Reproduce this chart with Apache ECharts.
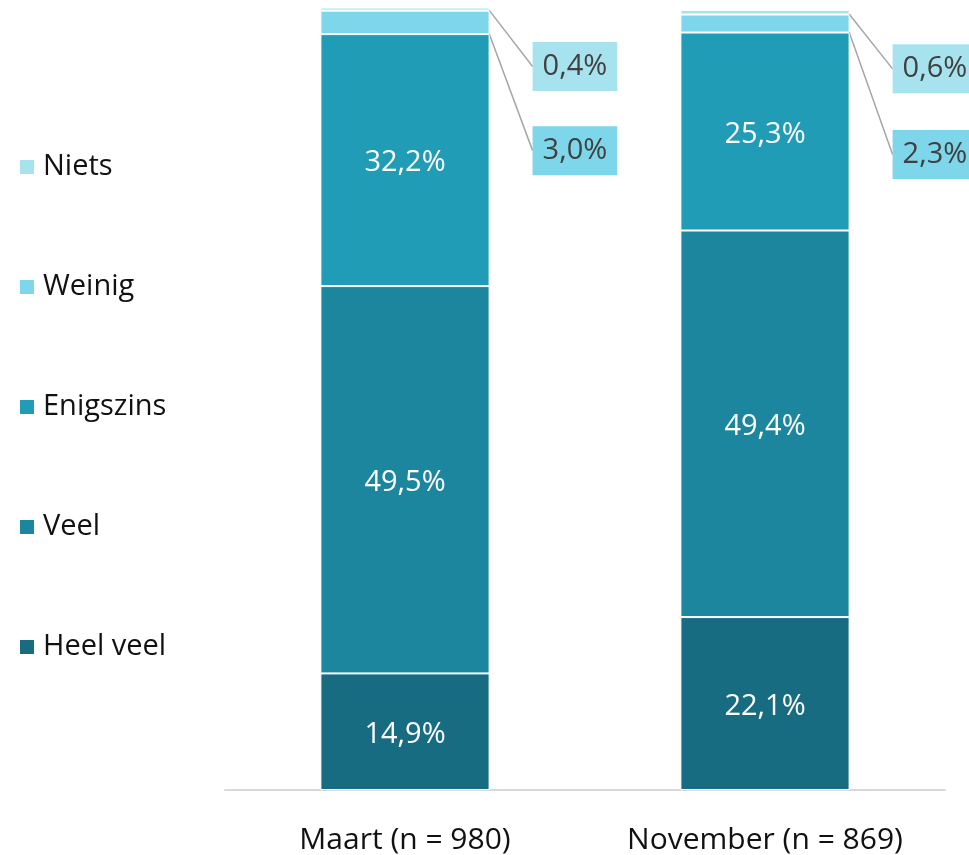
<!DOCTYPE html>
<html>
<head>
<meta charset="utf-8">
<title>Chart</title>
<script src="https://cdn.jsdelivr.net/npm/echarts@6/dist/echarts.min.js"></script>
<style>
  html, body { margin: 0; padding: 0; background: #fff; }
  #chart { width: 969px; height: 855px; }
</style>
</head>
<body>
<div id="chart"></div>
<script>
  // categories and values (percentages)
  var categories = ['Maart (n = 980)', 'November (n = 869)'];
  var heelVeel = [14.9, 22.1];
  var veel = [49.5, 49.4];
  var enigszins = [32.2, 25.3];
  var weinig = [3.0, 2.3];
  var niets = [0.4, 0.6];

  var FONT = '"Open Sans", "Noto Sans", sans-serif';

  function fmt(p) {
    return p.value.toFixed(1).replace('.', ',') + '%';
  }

  function inside(name, data, color) {
    return {
      name: name,
      type: 'bar',
      stack: 'total',
      barWidth: '47%',
      data: data,
      itemStyle: { color: color, borderColor: '#fff', borderWidth: 1 },
      label: {
        show: true,
        position: 'inside',
        offset: [0, 3],
        formatter: fmt,
        color: '#fff',
        fontFamily: FONT,
        fontSize: 29
      }
    };
  }

  // small segments: label boxes to the right with leader lines
  function outside(name, data, color, offsetY) {
    return {
      name: name,
      type: 'bar',
      stack: 'total',
      barWidth: '47%',
      data: data,
      itemStyle: { color: color, borderColor: '#fff', borderWidth: 1 },
      label: {
        show: true,
        position: 'right',
        formatter: fmt,
        color: '#404040',
        fontFamily: FONT,
        fontSize: 29,
        verticalAlign: 'middle',
        backgroundColor: color,
        padding: [11, 10, 9, 10]
      },
      labelLine: {
        show: true,
        lineStyle: { color: '#a6a6a6', width: 1.5 }
      },
      labelLayout: function (p) {
        var x0 = p.rect.x + p.rect.width;
        var lx = x0 + 43;
        var ly = p.rect.y + offsetY;
        return {
          x: lx,
          y: ly,
          align: 'left',
          verticalAlign: 'middle',
          labelLinePoints: [
            [x0, p.rect.y + p.rect.height / 2],
            [lx - 13, ly],
            [lx, ly]
          ]
        };
      }
    };
  }

  var option = {
    animation: false,
    textStyle: { fontFamily: FONT },
    legend: {
      orient: 'vertical',
      left: 18,
      top: 152,
      padding: 0,
      itemWidth: 16,
      itemHeight: 16,
      itemGap: 90,
      icon: 'rect',
      selectedMode: false,
      data: ['Niets', 'Weinig', 'Enigszins', 'Veel', 'Heel veel'],
      textStyle: {
        fontFamily: FONT,
        fontSize: 29,
        color: '#111',
        lineHeight: 30,
        padding: [0, 0, 0, 3]
      }
    },
    grid: {
      left: 225,
      right: 24,
      top: 7.5,
      bottom: 65
    },
    xAxis: {
      type: 'category',
      data: categories,
      axisLine: { lineStyle: { color: '#d9d9d9', width: 2 } },
      axisTick: { show: false },
      axisLabel: {
        fontFamily: FONT,
        fontSize: 30,
        color: '#111',
        margin: 35
      }
    },
    yAxis: {
      type: 'value',
      min: 0,
      max: 100,
      show: false
    },
    series: [
      inside('Heel veel', heelVeel, '#176c82'),
      inside('Veel', veel, '#1c869e'),
      inside('Enigszins', enigszins, '#209cb6'),
      outside('Weinig', weinig, '#7dd6e9', 140),
      outside('Niets', niets, '#a7e3ef', 59)
    ]
  };

  var chart = echarts.init(document.getElementById('chart'));
  chart.setOption(option);
  window.addEventListener('resize', function () { chart.resize(); });
</script>
</body>
</html>
